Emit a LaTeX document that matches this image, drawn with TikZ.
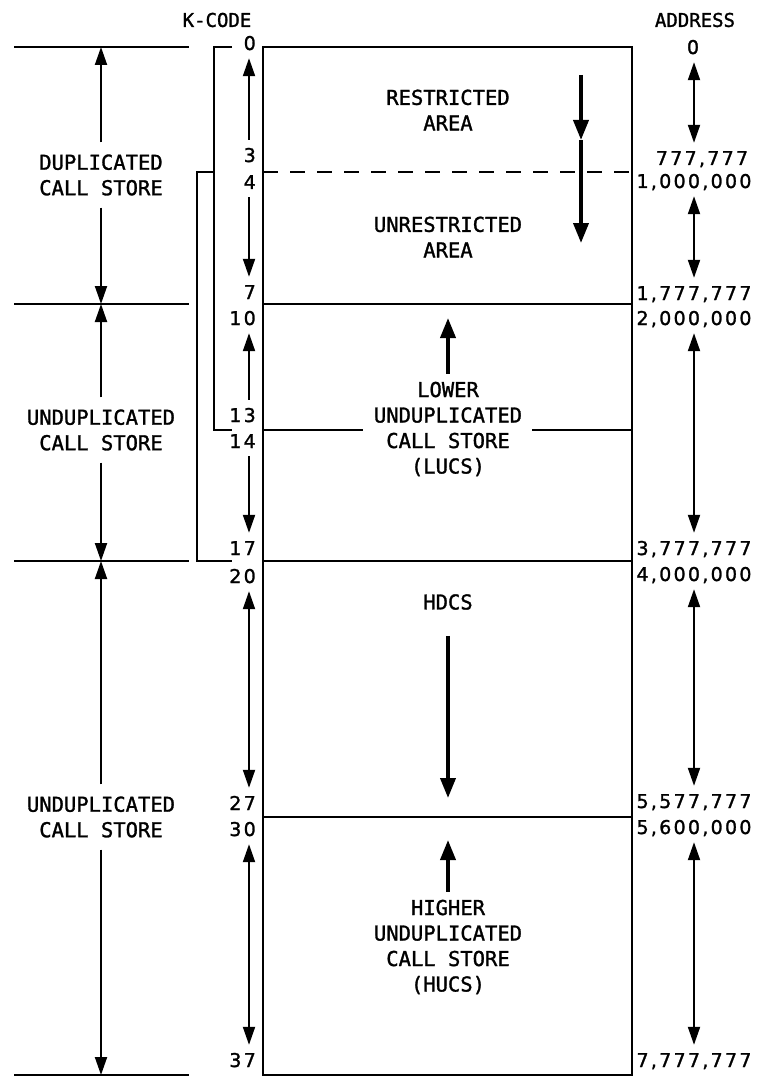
\documentclass[tikz,border=0pt]{standalone}
\usepackage{fontspec}
\usepackage{tikz}
\usetikzlibrary{arrows.meta,calc}
\newfontfamily\plotfont[FakeBold=1.4]{DejaVu Sans Mono}
\newfontfamily\plotnum[LetterSpace=12,FakeBold=1.4]{DejaVu Sans}

\begin{document}
\begin{tikzpicture}[
  x=1pt,y=-1pt,
  wall/.style={line width=2.4pt},
  rule/.style={line width=2.2pt},
  lbl/.style={font=\plotfont\fontsize{20.5}{25.5}\selectfont,align=center,inner sep=0pt},
  head/.style={font=\plotfont\fontsize{19}{22}\selectfont,inner sep=0pt},
  num/.style={font=\plotnum\fontsize{19}{22}\selectfont,inner sep=0pt,text height=14pt,text depth=0pt},
  span/.style={line width=2pt,-{Triangle[length=18pt,width=12pt]},shorten <=12pt},
  dim/.style={line width=2pt,-{Triangle[length=18pt,width=12pt]},shorten <=8pt,shorten >=8pt},
  dimboth/.style={dim,{Triangle[length=18pt,width=12pt]}-{Triangle[length=18pt,width=12pt]}},
  flow/.style={line width=3.8pt,-{Triangle[length=20pt,width=15pt]}}
]
\useasboundingbox (0,0) rectangle (756,1078);

% store blocks
\draw[wall] (263,47) rectangle (632,1075);
\foreach \y in {304,561,817} \draw[wall] (263,\y) -- (632,\y);
\draw[wall] (263,430) -- (363,430) (532,430) -- (632,430);
\draw[wall,dash pattern=on 15pt off 12pt] (263,172) -- (632,172);

% left scale
\foreach \y in {47,304,561,1075} \draw[rule] (14,\y) -- (189,\y);
\draw[rule] (232,47) -- (214,47) -- (214,430) -- (232,430);
\draw[rule] (214,172) -- (197,172) -- (197,561) -- (232,561);
\coordinate (dtop) at (101,47);
\coordinate (dmid) at (101,304);
\coordinate (umid) at (101,561);
\coordinate (ubot) at (101,1075);
\node[lbl] (dcs) at (101,175) {DUPLICATED\\CALL STORE};
\node[lbl] (ucs) at (101,430) {UNDUPLICATED\\CALL STORE};
\node[lbl] (ucsb) at (101,817) {UNDUPLICATED\\CALL STORE};
\draw[span] (dcs.north) -- (dtop);
\draw[span] (dcs.south) -- (dmid);
\draw[span] (ucs.north) -- (dmid);
\draw[span] (ucs.south) -- (umid);
\draw[span] (ucsb.north) -- (umid);
\draw[span] (ucsb.south) -- (ubot);

% k-code column
\node[head] (kcode) at (217,20) {K-CODE};
\foreach \v/\y in {0/43,3/155,4/182,7/292,10/318,13/415,14/441,17/548,20/576,27/803,30/829,37/1060}
  \node[num,anchor=east] (k\v) at (256,\y) {\v};
\coordinate (kx) at (249,0);
\draw[dim] (k3.north -| kx) -- (k0.south -| kx);
\draw[dim] (k4.south -| kx) -- (k7.north -| kx);
\draw[dim] (k13.north -| kx) -- (k10.south -| kx);
\draw[dim] (k14.south -| kx) -- (k17.north -| kx);
\draw[dimboth] (k20.south -| kx) -- (k27.north -| kx);
\draw[dimboth] (k30.south -| kx) -- (k37.north -| kx);

% address column
\node[head] (addr) at (695,20) {ADDRESS};
\node[num] (a0) at (693,47) {0};
\node[num] (a1) at (702,158) {777,777};
\node[num] (a2) at (694,181) {1,000,000};
\node[num] (a3) at (694,293) {1,777,777};
\node[num] (a4) at (694,318) {2,000,000};
\node[num] (a5) at (694,548) {3,777,777};
\node[num] (a6) at (694,574) {4,000,000};
\node[num] (a7) at (694,801) {5,577,777};
\node[num] (a8) at (694,827) {5,600,000};
\node[num] (a9) at (694,1060) {7,777,777};
\coordinate (ax) at (694,0);
\draw[dimboth] (a0.south -| ax) -- (a1.north -| ax);
\draw[dimboth] (a2.south -| ax) -- (a3.north -| ax);
\draw[dimboth] (a4.south -| ax) -- (a5.north -| ax);
\draw[dimboth] (a6.south -| ax) -- (a7.north -| ax);
\draw[dimboth] (a8.south -| ax) -- (a9.north -| ax);

% areas
\node[lbl] (restr) at (448,110) {RESTRICTED\\AREA};
\node[lbl] (unres) at (448,237) {UNRESTRICTED\\AREA};
\node[lbl] (lucs) at (448,429) {LOWER\\UNDUPLICATED\\CALL STORE\\(LUCS)};
\node[lbl] (hdcs) at (448,602) {HDCS};
\node[lbl] (hucs) at (448,947) {HIGHER\\UNDUPLICATED\\CALL STORE\\(HUCS)};
\coordinate (rs) at (581,75);
\coordinate (rm) at (581,140);
\coordinate (re) at (581,243);
\coordinate (lu) at (448,318);
\coordinate (hd) at (448,798);
\coordinate (hu) at (448,840);
\draw[flow] (rs) -- (rm);
\draw[flow] (rm) -- (re);
\draw[flow,shorten <=8pt] (lucs.north) -- (lu);
\draw[flow,shorten <=26pt] (hdcs.south) -- (hd);
\draw[flow,shorten <=8pt] (hucs.north) -- (hu);
\end{tikzpicture}
\end{document}
